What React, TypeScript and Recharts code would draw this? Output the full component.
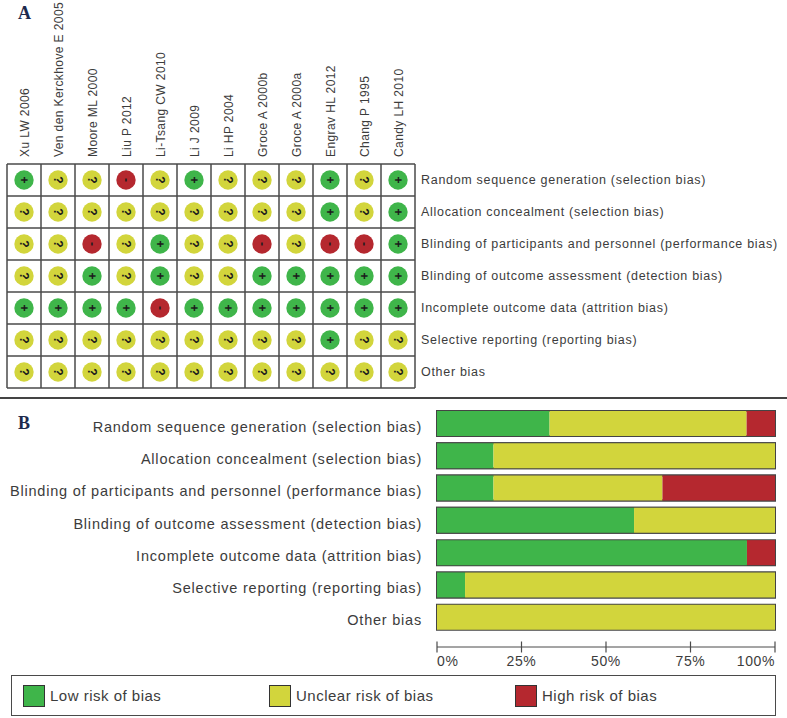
import React from "react";
import {
  Bar,
  BarChart,
  CartesianGrid,
  Legend,
  Scatter,
  ScatterChart,
  XAxis,
  YAxis,
} from "recharts";

const FONT = "'Liberation Sans', Arial, sans-serif";
const TEXT_COLOR = "#3c3c3c";
const LINE_COLOR = "#4a4a4a";
const LOW_COLOR = "#3fb54a";
const UNCLEAR_COLOR = "#d2d53c";
const HIGH_COLOR = "#b5282f";

const studies = [
  "Xu LW 2006",
  "Ven den Kerckhove E 2005",
  "Moore ML 2000",
  "Liu P 2012",
  "Li-Tsang CW 2010",
  "Li J 2009",
  "Li HP 2004",
  "Groce A 2000b",
  "Groce A 2000a",
  "Engrav HL 2012",
  "Chang P 1995",
  "Candy LH 2010",
];

const domains = [
  "Random sequence generation (selection bias)",
  "Allocation concealment (selection bias)",
  "Blinding of participants and personnel (performance bias)",
  "Blinding of outcome assessment (detection bias)",
  "Incomplete outcome data (attrition bias)",
  "Selective reporting (reporting bias)",
  "Other bias",
];

// one string per domain, one character per study
const judgements = [
  "+??-?+???+?+",
  "?????????+?+",
  "??-?+??-?--+",
  "??+?+??+++++",
  "++++-+++++++",
  "?????????+??",
  "????????????",
];

const lowRisk = [33.3, 16.7, 16.7, 58.3, 91.7, 8.3, 0];
const unclearRisk = [58.3, 83.3, 50, 41.7, 0, 91.7, 100];
const highRisk = [8.4, 0, 33.3, 0, 8.3, 0, 0];
const percentTicks = [0, 25, 50, 75, 100];

const cells = judgements.flatMap((row, r) =>
  row.split("").map((mark, c) => ({ x: c + 0.5, y: r + 0.5, mark }))
);
const barData = domains.map((name, i) => ({
  name,
  low: lowRisk[i],
  unclear: unclearRisk[i],
  high: highRisk[i],
}));

const columnEdges = studies.map((_, i) => i).concat(studies.length);
const rowEdges = domains.map((_, i) => i).concat(domains.length);

const Dot = (props: any) => {
  const { cx, cy, payload } = props;
  const { mark } = payload;
  const fill =
    mark === "+" ? LOW_COLOR : mark === "-" ? HIGH_COLOR : UNCLEAR_COLOR;
  return (
    <g>
      <circle cx={cx} cy={cy} r={9.7} fill={fill} />
      <text
        x={cx}
        y={cy + 4}
        textAnchor="middle"
        fontFamily={FONT}
        fontWeight="bold"
        fontSize={12}
        fill="#1c1c1c"
        transform={`rotate(90 ${cx} ${cy})`}
      >
        {mark}
      </text>
    </g>
  );
};

const StudyTick = (props: any) => {
  const { x, payload } = props;
  const i = Math.floor(payload.value);
  return (
    <text
      transform={`translate(${x + 5} 157) rotate(-90)`}
      fontFamily={FONT}
      fontSize={12}
      letterSpacing={0.4}
      fill={TEXT_COLOR}
    >
      {studies[i]}
    </text>
  );
};

const DomainTick = (props: any) => {
  const { y, payload } = props;
  const i = Math.floor(payload.value);
  return (
    <text
      x={421}
      y={y + 4}
      fontFamily={FONT}
      fontSize={12.5}
      letterSpacing={0.7}
      fill={TEXT_COLOR}
    >
      {domains[i]}
    </text>
  );
};

const BarLabelTick = (props: any) => {
  const { y, payload } = props;
  return (
    <text
      x={422}
      y={y + 8.5}
      textAnchor="end"
      fontFamily={FONT}
      fontSize={14.5}
      letterSpacing={0.78}
      fill={TEXT_COLOR}
    >
      {payload.value}
    </text>
  );
};

const PercentTick = (props: any) => {
  const { x, y, payload } = props;
  const anchor =
    payload.value === 0 ? "start" : payload.value === 100 ? "end" : "middle";
  return (
    <g>
      <line x1={x} x2={x} y1={y - 5.5} y2={y + 5.5} stroke={LINE_COLOR} strokeWidth={1.2} />
      <text
        x={x}
        y={y + 19}
        textAnchor={anchor}
        fontFamily={FONT}
        fontSize={14}
        letterSpacing={0.6}
        fill={TEXT_COLOR}
      >
        {payload.value}%
      </text>
    </g>
  );
};

const LegendBox = ({ payload }: any) => (
  <div
    style={{
      boxSizing: "border-box",
      height: 41,
      width: 765,
      marginLeft: 11,
      border: `1.5px solid ${LINE_COLOR}`,
      background: "#fff",
      display: "flex",
      alignItems: "center",
      paddingLeft: 11,
      fontFamily: FONT,
      fontSize: 15,
      letterSpacing: 0.5,
      color: TEXT_COLOR,
    }}
  >
    {(payload || []).map((item: any) => (
      <div
        key={item.value}
        style={{ width: 246, display: "flex", alignItems: "center" }}
      >
        <span
          style={{
            boxSizing: "border-box",
            width: 22,
            height: 22,
            marginRight: 5,
            background: item.color,
            border: "1.5px solid #333",
          }}
        />
        {item.value}
      </div>
    ))}
  </div>
);

const panelLetter = (letter: string, top: number) => (
  <div
    style={{
      position: "absolute",
      left: 18,
      top,
      fontFamily: "'Liberation Serif', serif",
      fontWeight: "bold",
      fontSize: 18,
      color: "#1d2a4d",
    }}
  >
    {letter}
  </div>
);

const outline = { fill: "none", stroke: "#444", strokeWidth: 2 };

export default function App() {
  return (
    <div
      style={{
        position: "absolute",
        left: 0,
        top: 0,
        width: 787,
        height: 718,
        background: "#fff",
        overflow: "hidden",
      }}
    >
      <div style={{ position: "absolute", left: 0, top: 0 }}>
        <ScatterChart
          width={787}
          height={395}
          margin={{ top: 0, right: 0, bottom: 7, left: 7 }}
        >
          <CartesianGrid
            stroke={LINE_COLOR}
            strokeWidth={1.5}
            verticalValues={columnEdges}
            horizontalValues={rowEdges}
          />
          <XAxis
            type="number"
            dataKey="x"
            orientation="top"
            height={164}
            domain={[0, 12]}
            ticks={studies.map((_, i) => i + 0.5)}
            interval={0}
            axisLine={false}
            tickLine={false}
            tick={<StudyTick />}
          />
          <YAxis
            type="number"
            dataKey="y"
            orientation="right"
            width={372}
            reversed
            domain={[0, 7]}
            ticks={domains.map((_, i) => i + 0.5)}
            interval={0}
            axisLine={false}
            tickLine={false}
            tick={<DomainTick />}
          />
          <Scatter data={cells} shape={<Dot />} isAnimationActive={false} />
        </ScatterChart>
      </div>
      <div
        style={{
          position: "absolute",
          left: 0,
          top: 396.5,
          width: 787,
          height: 2,
          background: "#444",
        }}
      />
      <div style={{ position: "absolute", left: 0, top: 400 }}>
        <BarChart
          width={787}
          height={318}
          layout="vertical"
          data={barData}
          margin={{ top: 7, right: 12, bottom: 0, left: 0 }}
        >
          <XAxis
            type="number"
            domain={[0, 100]}
            ticks={percentTicks}
            interval={0}
            height={30}
            stroke={LINE_COLOR}
            tickLine={false}
            tickSize={0}
            tickMargin={0}
            tick={<PercentTick />}
          />
          <YAxis
            type="category"
            dataKey="name"
            width={437}
            padding={{ top: 0, bottom: 14 }}
            interval={0}
            axisLine={false}
            tickLine={false}
            tick={<BarLabelTick />}
          />
          <Legend
            content={<LegendBox />}
            itemSorter={null}
            wrapperStyle={{ bottom: 2, left: 0 }}
          />
          <Bar
            dataKey="low"
            name="Low risk of bias"
            stackId="risk"
            fill={LOW_COLOR}
            barSize={25}
            background={outline}
            isAnimationActive={false}
          />
          <Bar
            dataKey="unclear"
            name="Unclear risk of bias"
            stackId="risk"
            fill={UNCLEAR_COLOR}
            barSize={25}
            background={outline}
            isAnimationActive={false}
          />
          <Bar
            dataKey="high"
            name="High risk of bias"
            stackId="risk"
            fill={HIGH_COLOR}
            barSize={25}
            isAnimationActive={false}
          />
        </BarChart>
      </div>
      {panelLetter("A", 3)}
      {panelLetter("B", 413)}
    </div>
  );
}
